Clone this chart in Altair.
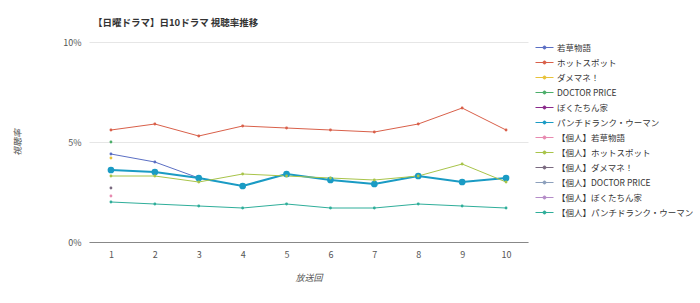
import altair as alt
import pandas as pd

series = ["若草物語", "ホットスポット", "ダメマネ！", "DOCTOR PRICE", "ぼくたちん家",
          "パンチドランク・ウーマン", "【個人】若草物語", "【個人】ホットスポット",
          "【個人】ダメマネ！", "【個人】DOCTOR PRICE", "【個人】ぼくたちん家",
          "【個人】パンチドランク・ウーマン"]
colors = ["#5b6fc4", "#d9604a", "#e8c23a", "#4cae6a", "#8b2a8b", "#1a9bc4",
          "#e88ab0", "#a8c44a", "#7a6a80", "#8da0bc", "#b48cc8", "#2fae9a"]

episodes = list(range(1, 11))
values = {
    "若草物語": [4.4, 4.0, 3.2],
    "ホットスポット": [5.6, 5.9, 5.3, 5.8, 5.7, 5.6, 5.5, 5.9, 6.7, 5.6],
    "ダメマネ！": [4.2],
    "DOCTOR PRICE": [5.0],
    "ぼくたちん家": [],
    "パンチドランク・ウーマン": [3.6, 3.5, 3.2, 2.8, 3.4, 3.1, 2.9, 3.3, 3.0, 3.2],
    "【個人】若草物語": [2.3],
    "【個人】ホットスポット": [3.3, 3.3, 3.0, 3.4, 3.3, 3.2, 3.1, 3.3, 3.9, 3.0],
    "【個人】ダメマネ！": [2.7],
    "【個人】DOCTOR PRICE": [],
    "【個人】ぼくたちん家": [],
    "【個人】パンチドランク・ウーマン": [2.0, 1.9, 1.8, 1.7, 1.9, 1.7, 1.7, 1.9, 1.8, 1.7],
}

rows = []
for s in series:
    for ep, v in zip(episodes, values[s]):
        rows.append({"series": s, "ep": ep, "rating": v,
                     "big": s == "パンチドランク・ウーマン"})
df = pd.DataFrame(rows)

FONT = "Noto Sans CJK JP"
legend_symbol = "M-1,0 L1,0 M-0.17,0 A0.17,0.17 0 1,1 0.17,0 A0.17,0.17 0 1,1 -0.17,0 Z"

color = alt.Color("series:N", scale=alt.Scale(domain=series, range=colors),
                  legend=alt.Legend(title=None, orient="none", legendX=446, legendY=-4,
                                    symbolType=legend_symbol, symbolSize=324,
                                    symbolStrokeWidth=1, labelFontSize=8.5,
                                    labelColor="#333", labelFont=FONT,
                                    rowPadding=1.0, labelOffset=3, padding=0,
                                    labelLimit=300))

x = alt.X("ep:O", scale=alt.Scale(type="point", padding=0.5, domain=episodes),
          axis=alt.Axis(title="放送回", labelAngle=0, ticks=False, grid=False,
                        labelFontSize=9, labelColor="#555", labelPadding=8,
                        domainColor="#888", titleFontSize=9, titleColor="#555",
                        titleFontStyle="italic", titleFontWeight="normal",
                        titlePadding=14))
y = alt.Y("rating:Q", scale=alt.Scale(domain=[0, 10]),
          axis=alt.Axis(title="視聴率", values=[0, 5, 10], labelExpr="datum.value + '%'",
                        ticks=False, domain=False, gridColor="#e6e6e6",
                        labelFontSize=9, labelColor="#555", labelPadding=8,
                        titleFontSize=9, titleColor="#555", titleFontStyle="italic",
                        titleFontWeight="normal", titlePadding=40))

base = alt.Chart(df)
lines = base.mark_line().encode(
    x=x, y=y, color=color, detail="series:N",
    strokeWidth=alt.StrokeWidth("big:N", scale=alt.Scale(domain=[False, True], range=[1, 2]), legend=None))
points = base.mark_point(filled=True, opacity=1).encode(
    x=x, y=y, color=color,
    size=alt.Size("big:N", scale=alt.Scale(domain=[False, True], range=[8, 45]), legend=None))

chart = alt.layer(lines, points).properties(
    width=439, height=200,
    title=alt.TitleParams("【日曜ドラマ】日10ドラマ 視聴率推移", anchor="start", frame="group",
                          fontSize=9.5, font=FONT, fontWeight="bold", color="#333",
                          offset=11, dx=4),
    autosize=alt.AutoSizeParams(type="none"),
    padding={"left": 89, "top": 42, "right": 172, "bottom": 61},
).configure(font=FONT).configure_view(stroke=None)

chart.save("out.html", embed_options={"renderer": "svg", "actions": False})
